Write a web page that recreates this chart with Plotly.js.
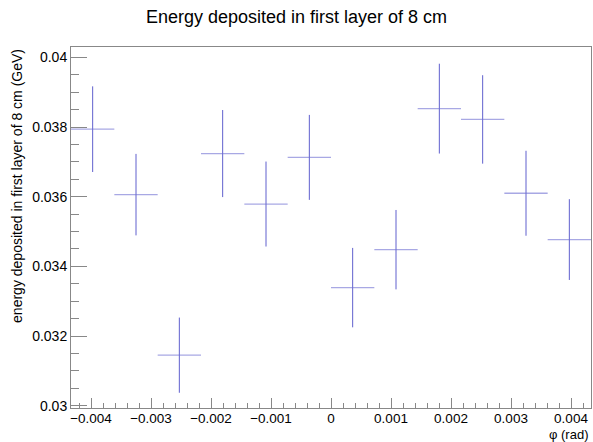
<!DOCTYPE html>
<html>
<head>
<meta charset="utf-8">
<script src="https://cdn.plot.ly/plotly-3.0.1.min.js"></script>
<style>
  html, body { margin: 0; padding: 0; background: #fff; }
  #plot { width: 593px; height: 442px; }
</style>
</head>
<body>
<div id="plot"></div>
<script>
// Histogram binning in phi (rad)
const phiMin = -0.0043333;
const phiMax = 0.0043333;
const nBins = 12;

// Bin contents (GeV) and their statistical errors
const energy = [0.03794, 0.03606, 0.03145, 0.03724, 0.03579, 0.03713,
                0.03339, 0.03448, 0.03853, 0.03822, 0.03610, 0.03477];
const energyErr = [0.00123, 0.00117, 0.00108, 0.00125, 0.00122, 0.00122,
                   0.00114, 0.00114, 0.00129, 0.00127, 0.00122, 0.00116];

// Axis tick labels
const xTickVals = [-0.004, -0.003, -0.002, -0.001, 0, 0.001, 0.002, 0.003, 0.004];
const xTickText = ['\u22120.004', '\u22120.003', '\u22120.002', '\u22120.001', '0',
                   '0.001', '0.002', '0.003', '0.004'];
const yTickVals = [0.03, 0.032, 0.034, 0.036, 0.038, 0.04];
const yTickText = ['0.03', '0.032', '0.034', '0.036', '0.038', '0.04'];

const binWidth = (phiMax - phiMin) / nBins;
const binCenters = energy.map((_, i) => phiMin + binWidth * (i + 0.5));

const markColor = 'rgb(96,96,206)';
const font = 'Liberation Sans, Arial, Helvetica, sans-serif';

const trace = {
  type: 'scatter',
  mode: 'markers',
  x: binCenters,
  y: energy,
  marker: { size: 1, color: markColor, opacity: 0 },
  error_y: { type: 'data', array: energyErr, visible: true,
             color: markColor, thickness: 1, width: 0 },
  error_x: { type: 'constant', value: binWidth / 2, visible: true,
             color: 'rgba(110,110,210,0.6)', thickness: 1.3, width: 0 },
  hoverinfo: 'x+y'
};

const layout = {
  width: 593,
  height: 442,
  margin: { l: 71, r: 2, t: 47, b: 34 },
  paper_bgcolor: '#fff',
  plot_bgcolor: '#fff',
  showlegend: false,
  font: { family: font, size: 14, color: '#000' },
  title: {
    text: 'Energy deposited in first layer of 8 cm',
    font: { family: font, size: 18, color: '#000' },
    x: 0.5, xanchor: 'center', y: 0.962, yanchor: 'middle'
  },
  xaxis: {
    range: [phiMin, phiMax],
    showgrid: false, zeroline: false,
    showline: true, linecolor: '#888', linewidth: 1, mirror: true,
    ticks: 'inside', ticklen: 10, tickcolor: '#888', tickwidth: 1,
    ticklabelstandoff: -2,
    tickvals: xTickVals, ticktext: xTickText,
    tickfont: { family: font, size: 13.5, color: '#000' },
    minor: { dtick: 0.0002, tick0: 0, ticks: 'inside', ticklen: 5,
             tickcolor: '#888', tickwidth: 1, showgrid: false }
  },
  yaxis: {
    range: [0.029933, 0.04030],
    showgrid: false, zeroline: false,
    showline: true, linecolor: '#888', linewidth: 1, mirror: true,
    ticks: 'inside', ticklen: 16, tickcolor: '#888', tickwidth: 1,
    tickvals: yTickVals, ticktext: yTickText,
    tickfont: { family: font, size: 14, color: '#000' },
    minor: { dtick: 0.0005, tick0: 0, ticks: 'inside', ticklen: 8,
             tickcolor: '#888', tickwidth: 1, showgrid: false }
  },
  annotations: [
    {
      text: '\u03c6 (rad)',
      xref: 'paper', yref: 'paper', x: 1, y: 0, yshift: -26,
      xanchor: 'right', yanchor: 'middle', showarrow: false,
      font: { family: font, size: 13, color: '#000' }
    },
    {
      text: 'energy deposited in first layer of 8 cm (GeV)',
      xref: 'paper', yref: 'paper', x: -0.104, y: 1.0,
      xanchor: 'center', yanchor: 'top', textangle: -90, showarrow: false,
      font: { family: font, size: 14, color: '#000' }
    }
  ]
};

Plotly.newPlot('plot', [trace], layout, { displayModeBar: false, staticPlot: true });
</script>
</body>
</html>
